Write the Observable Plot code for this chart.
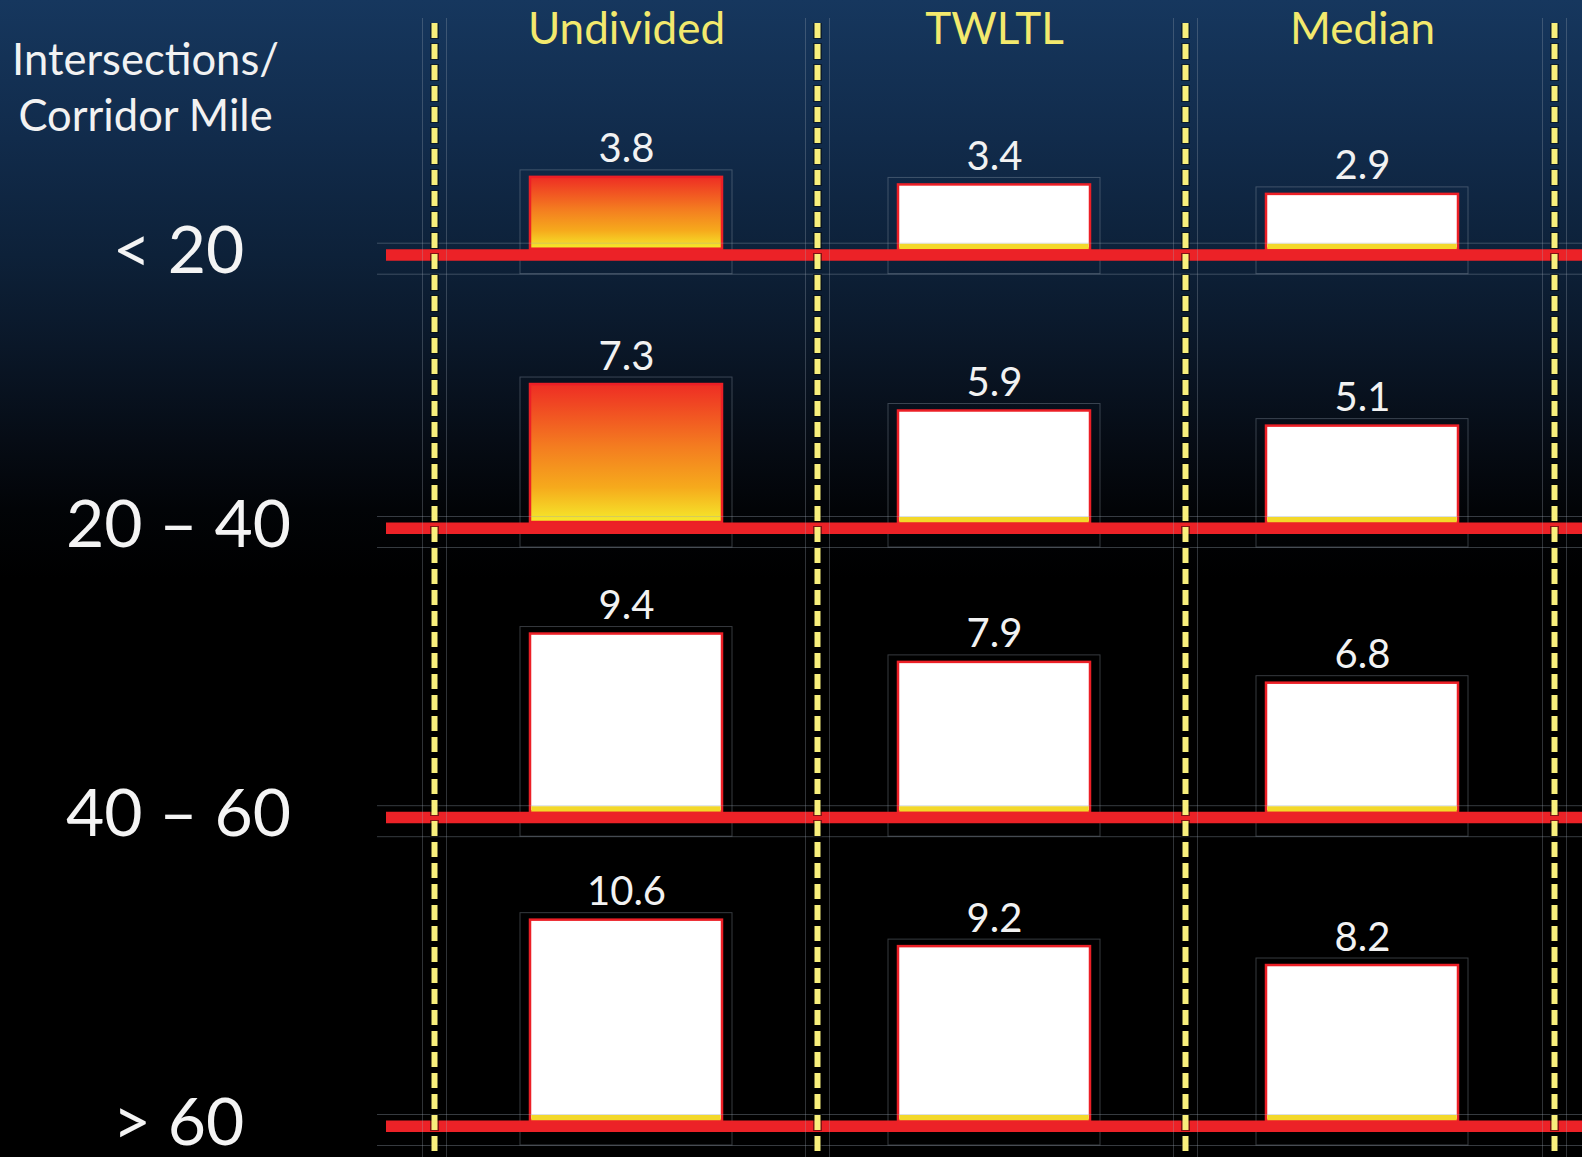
<!DOCTYPE html>
<html>
<head>
<meta charset="utf-8">
<script src="https://cdn.jsdelivr.net/npm/d3@7"></script>
<script src="https://cdn.jsdelivr.net/npm/@observablehq/plot@0.6"></script>
<style>
  html, body { margin: 0; padding: 0; background: #000; }
  #chart {
    position: relative;
    width: 1582px;
    height: 1157px;
    overflow: hidden;
    font-family: Lato, "Open Sans", sans-serif;
    background: linear-gradient(to bottom,
      #16375e 0%, #112b4b 12%, #0d2139 22%, #0a1728 30%,
      #060c15 38%, #020407 44%, #000 50%, #000 100%);
  }
  #chart svg { position: absolute; left: 0; top: 0; overflow: visible; background: transparent; }
</style>
</head>
<body>
<div id="chart"></div>
<svg width="0" height="0" style="position:absolute">
  <defs>
    <linearGradient id="heat" x1="0" y1="0" x2="0" y2="1">
      <stop offset="0" stop-color="#ee2d24"/>
      <stop offset="0.45" stop-color="#f47c20"/>
      <stop offset="0.75" stop-color="#f6aa1c"/>
      <stop offset="1" stop-color="#f5ea2b"/>
    </linearGradient>
  </defs>
</svg>
<script>
// Crash rate per corridor type, by intersection density (intersections per corridor mile)
const columns = ["Undivided", "TWLTL", "Median"];
const densityBands = ["< 20", "20 – 40", "40 – 60", "> 60"];
const undivided = [3.8, 7.3, 9.4, 10.6];
const twltl = [3.4, 5.9, 7.9, 9.2];
const median = [2.9, 5.1, 6.8, 8.2];
const highlighted = [["< 20", "Undivided"], ["20 – 40", "Undivided"]];
const axisTitle = ["Intersections/", "Corridor Mile"];

// Layout
const W = 1582, H = 1157;
const PX_PER_UNIT = 18.9;                 // bar height per unit of rate
const rowZero = [248.7, 522, 811.2, 1120]; // pixel row of each band's zero line
const bandRange = [442, 1546];            // column bands for bars and headers
const dividerRange = [434, 817, 1185, 1554];
const BAR_INSET = 88;
const FONT = "Lato, 'Open Sans', sans-serif";
const FRAME = "#9aa6b4";

const series = [undivided, twltl, median];
const isHot = (band, col) => highlighted.some(([b, c]) => b === band && c === col);

const chart = document.getElementById("chart");

densityBands.forEach((band, r) => {
  const rows = columns.map((col, c) => ({band, col, value: series[c][r], hot: isHot(band, col)}));
  const hot = rows.filter(d => d.hot);
  const cool = rows.filter(d => !d.hot);
  const base = rowZero[r];

  const marks = [
    // faint outline boxes around each bar
    Plot.barY(rows, {x: "col", y: "value", fill: "none", stroke: FRAME, strokeOpacity: 0.35, strokeWidth: 1,
      insetLeft: BAR_INSET - 10, insetRight: BAR_INSET - 10, insetTop: -7, insetBottom: -25}),
    // bars
    Plot.barY(hot, {x: "col", y: "value", fill: "url(#heat)", stroke: "#ec1f26", strokeWidth: 2.5,
      insetLeft: BAR_INSET, insetRight: BAR_INSET}),
    Plot.barY(cool, {x: "col", y: "value", fill: "#ffffff", stroke: "#ec1f26", strokeWidth: 2.5,
      insetLeft: BAR_INSET, insetRight: BAR_INSET}),
    // yellow foot of the white bars
    Plot.tickY(cool, {x: "col", y: 0, stroke: "#f3d82a", strokeWidth: 5.5, dy: -2.75,
      insetLeft: BAR_INSET + 1.25, insetRight: BAR_INSET + 1.25}),
    // red zero line of the band
    Plot.ruleY([0], {stroke: "#ec2227", strokeWidth: 11.6, dy: 5.8, insetLeft: 386}),
    // faint box around the zero line
    Plot.ruleY([0], {stroke: FRAME, strokeOpacity: 0.35, strokeWidth: 1, dy: -6, insetLeft: 377}),
    Plot.ruleY([0], {stroke: FRAME, strokeOpacity: 0.35, strokeWidth: 1, dy: 25, insetLeft: 377}),
    // value labels
    Plot.text(rows, {x: "col", y: "value", text: d => d.value.toFixed(1), dy: -15, lineAnchor: "bottom",
      fill: "#f2f2f2", fontSize: 40, fontFamily: FONT}),
    // density band label
    Plot.text([band], {frameAnchor: "left", y: 0, text: d => d, dx: 178, dy: 24, lineAnchor: "bottom",
      textAnchor: "middle", fill: "#f4f4f4", fontSize: 66, fontFamily: FONT})
  ];

  if (r === 0) {
    marks.push(
      Plot.text(columns, {x: d => d, text: d => d, frameAnchor: "top", dy: 43, lineAnchor: "bottom",
        fill: "#f3e96d", fontSize: 44, fontFamily: FONT}),
      Plot.text([axisTitle[0]], {text: d => d, frameAnchor: "top-left", dx: 145, dy: 74, lineAnchor: "bottom",
        textAnchor: "middle", fill: "#f2f2f2", fontSize: 43.5, fontFamily: FONT}),
      Plot.text([axisTitle[1]], {text: d => d, frameAnchor: "top-left", dx: 145, dy: 130, lineAnchor: "bottom",
        textAnchor: "middle", fill: "#f2f2f2", fontSize: 43.5, fontFamily: FONT})
    );
  }

  const svg = Plot.plot({
    width: W, height: H, margin: 0,
    style: {background: "transparent", overflow: "visible"},
    x: {type: "band", domain: columns, range: bandRange, padding: 0, axis: null},
    y: {type: "linear", domain: [0, 1], range: [base, base - PX_PER_UNIT], axis: null},
    marks
  });
  chart.appendChild(svg);
});

// dashed column dividers on top of everything
const boundaries = d3.range(columns.length + 1);
const dividers = Plot.plot({
  width: W, height: H, marginTop: 18, marginBottom: 0, marginLeft: 0, marginRight: 0,
  style: {background: "transparent", overflow: "visible"},
  x: {type: "linear", domain: boundaries, range: dividerRange, axis: null},
  marks: [
    Plot.ruleX(boundaries, {dx: -12, stroke: FRAME, strokeOpacity: 0.3, strokeWidth: 1}),
    Plot.ruleX(boundaries, {dx: 12, stroke: FRAME, strokeOpacity: 0.3, strokeWidth: 1}),
    Plot.ruleX(boundaries, {stroke: "#000", strokeOpacity: 0.45, strokeWidth: 9,
      strokeDasharray: "17 4", strokeDashoffset: 1, insetTop: 5}),
    Plot.ruleX(boundaries, {stroke: "#f8ef7c", strokeWidth: 6, strokeDasharray: "15 6", insetTop: 5})
  ]
});
chart.appendChild(dividers);
</script>
</body>
</html>
